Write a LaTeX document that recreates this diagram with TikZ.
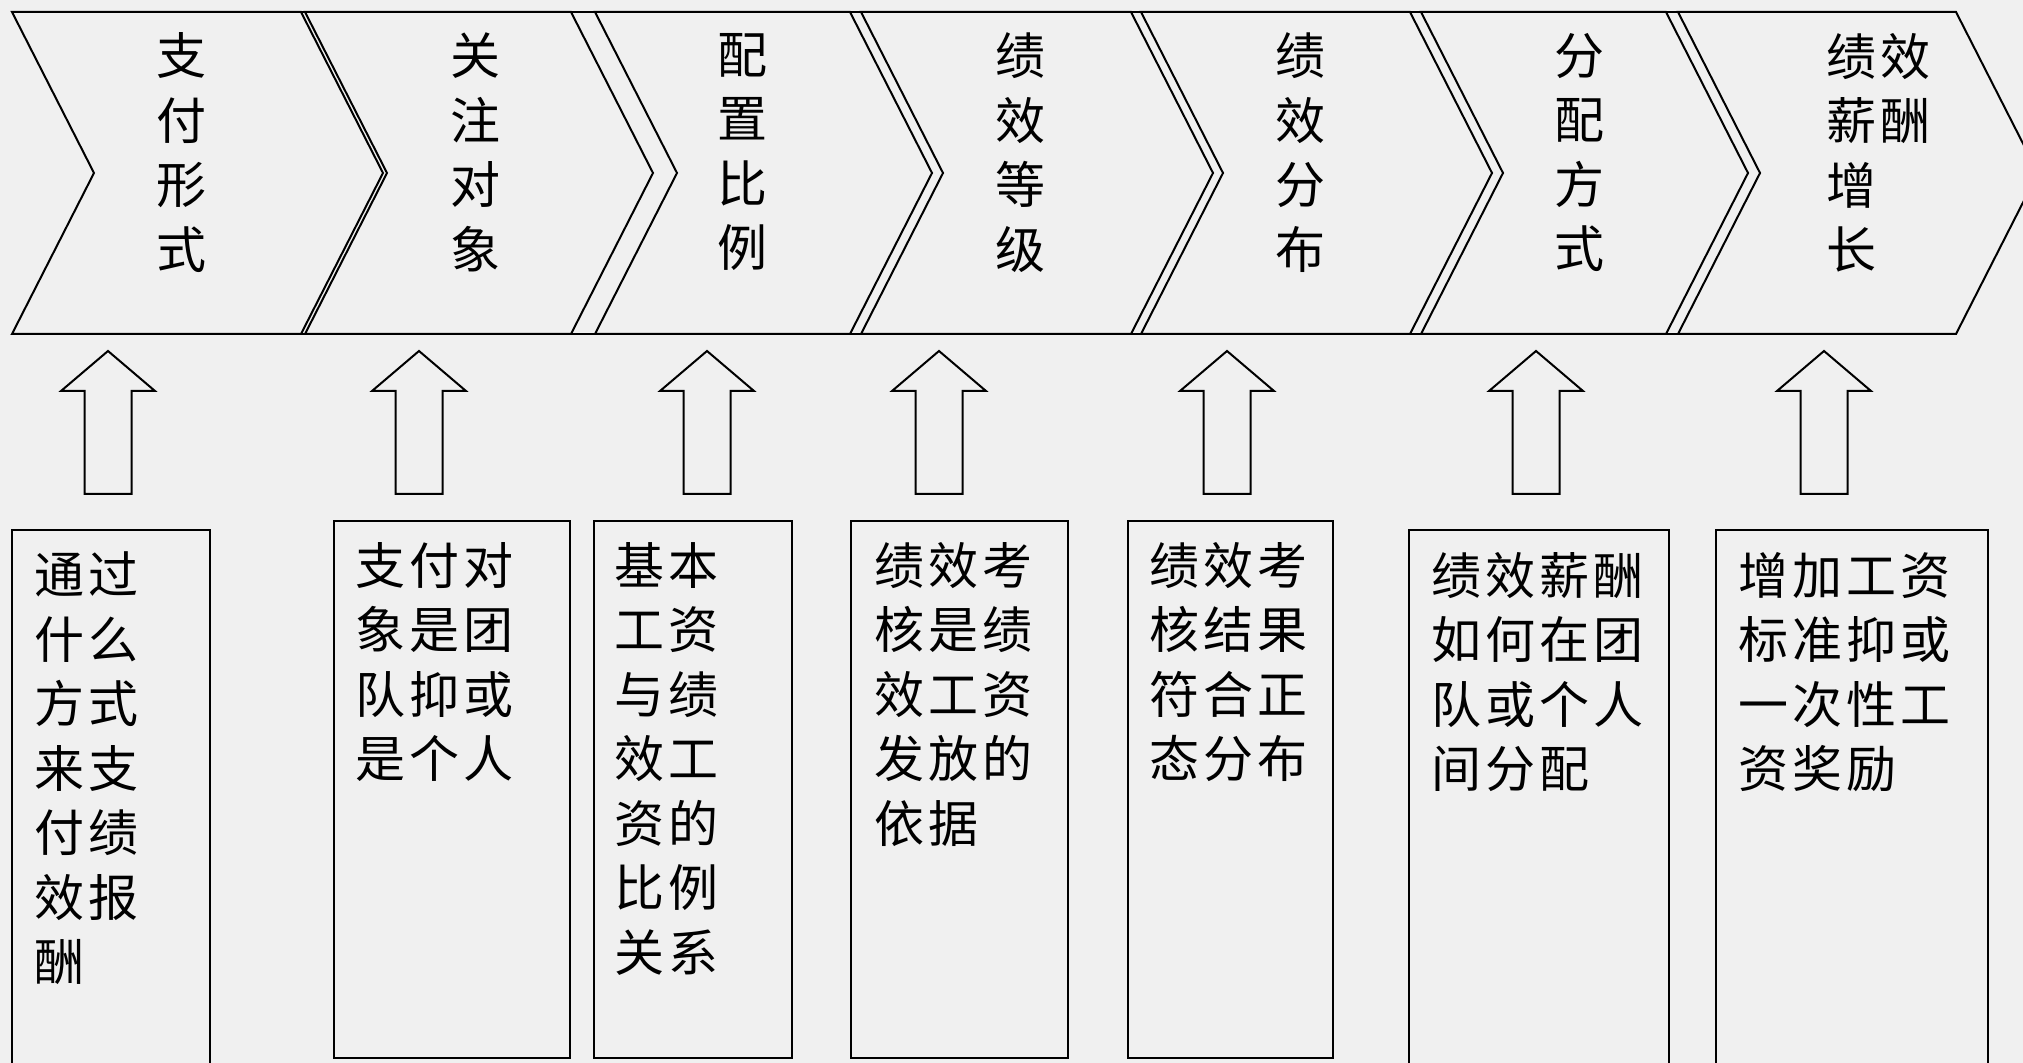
\documentclass[tikz,border=0pt]{standalone}
\usepackage{fontspec}
\newfontfamily\cjk{Noto Sans CJK SC}[LetterSpace=8]
\definecolor{bgcol}{HTML}{F0F0F0}
\begin{document}
\begin{tikzpicture}[x=0.5pt,y=-0.5pt,
  outline/.style={line width=1pt, draw=black, line join=miter},
  cjktext/.style={font=\cjk\fontsize{25pt}{32.25pt}\selectfont, inner sep=0pt, outer sep=0pt, text=black},
  chevtext/.style={cjktext, align=center, anchor=north},
  boxtext/.style={cjktext, align=left, anchor=north west},
  infobox/.style={outline, fill=bgcol}]
\useasboundingbox (0,0) rectangle (2023,1063);
\fill[bgcol] (0,0) rectangle (2023,1063);
\clip (0,0) rectangle (2023,1063);
% chevrons: top-left L, top-right R
\foreach \L/\R in {12/301, 305/571, 595/850, 861/1131, 1141/1410, 1421/1666, 1678/1956}{
  \draw[outline] (\L,12) -- (\R,12) -- ({\R+82},173) -- (\R,334) -- (\L,334) -- ({\L+82},173) -- cycle;
}
\draw[outline] (12,12) -- (1956,12);
\draw[outline] (12,334) -- (1956,334);
% chevron labels
\node[chevtext] (c1) at (181,33) {支\\付\\形\\式};
\node[chevtext] (c2) at (475,33) {关\\注\\对\\象};
\node[chevtext] (c3) at (742,33) {配\\置\\比\\例};
\node[chevtext] (c4) at (1020,33) {绩\\效\\等\\级};
\node[chevtext] (c5) at (1300,33) {绩\\效\\分\\布};
\node[chevtext] (c6) at (1579,33) {分\\配\\方\\式};
\node[boxtext] (c7) at (1826,33) {绩效\\薪酬\\增\\长};
% up block arrows
\foreach \c in {108, 419, 707, 939, 1227, 1536, 1824}{
  \draw[outline] (\c,351) -- ({\c+47},391) -- ({\c+23.5},391) -- ({\c+23.5},494)
     -- ({\c-23.5},494) -- ({\c-23.5},391) -- ({\c-47},391) -- cycle;
}
% boxes
\draw[infobox] (12,530) rectangle (210,1090);
\draw[infobox] (334,521) rectangle (570,1058);
\draw[infobox] (594,521) rectangle (792,1058);
\draw[infobox] (851,521) rectangle (1068,1058);
\draw[infobox] (1128,521) rectangle (1333,1058);
\draw[infobox] (1409,530) rectangle (1669,1090);
\draw[infobox] (1716,530) rectangle (1988,1090);
% box texts
\node[boxtext] (t1) at (34,552) {通过\\什么\\方式\\来支\\付绩\\效报\\酬};
\node[boxtext] (t2) at (355,542) {支付对\\象是团\\队抑或\\是个人};
\node[boxtext] (t3) at (614,542) {基本\\工资\\与绩\\效工\\资的\\比例\\关系};
\node[boxtext] (t4) at (874,542) {绩效考\\核是绩\\效工资\\发放的\\依据};
\node[boxtext] (t5) at (1149,542) {绩效考\\核结果\\符合正\\态分布};
\node[boxtext] (t6) at (1431,552) {绩效薪酬\\如何在团\\队或个人\\间分配};
\node[boxtext] (t7) at (1738,552) {增加工资\\标准抑或\\一次性工\\资奖励};
\end{tikzpicture}
\end{document}
